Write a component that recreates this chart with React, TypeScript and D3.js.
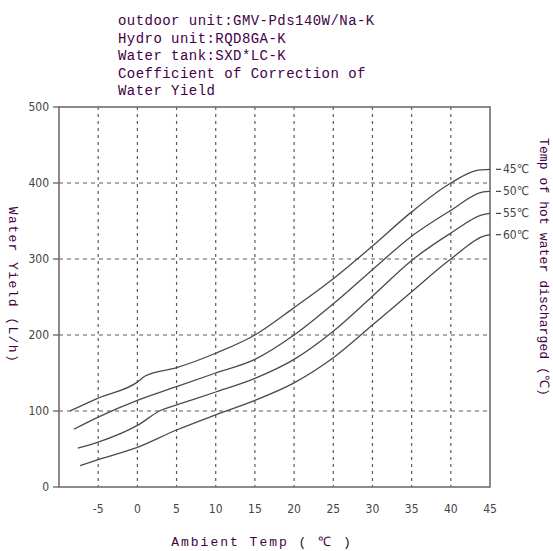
import * as d3 from 'd3';

type Pt = [number, number];

const TITLE_LINES = [
  'outdoor unit:GMV-Pds140W/Na-K',
  'Hydro unit:RQD8GA-K',
  'Water tank:SXD*LC-K',
  'Coefficient of Correction of',
  'Water Yield',
];

const X_TICKS = [-5, 0, 5, 10, 15, 20, 25, 30, 35, 40, 45];
const Y_TICKS = [0, 100, 200, 300, 400, 500];
const SERIES_LABELS = ['45℃', '50℃', '55℃', '60℃'];

// water yield (L/h) vs ambient temp, one curve per hot water temp
const CURVE_45: Pt[] = [[-8.6, 100], [-5, 117], [0, 138], [1, 146], [5, 157], [10, 176], [15, 200], [20, 236], [25, 274], [30, 317], [35, 362], [40, 400], [43.5, 417], [45, 418]];
const CURVE_50: Pt[] = [[-8.1, 76], [-5, 92], [0, 114], [5, 132], [10, 150], [15, 168], [20, 200], [25, 241], [30, 286], [35, 330], [40, 364], [44, 388], [45, 389]];
const CURVE_55: Pt[] = [[-7.6, 51], [-5, 59], [0, 81], [3, 101], [5, 108], [10, 125], [15, 143], [20, 168], [25, 205], [30, 251], [35, 298], [40, 334], [44, 358], [45, 360]];
const CURVE_60: Pt[] = [[-7.3, 28], [-5, 36], [0, 52], [5, 75], [10, 95], [15, 114], [20, 137], [25, 170], [30, 213], [35, 257], [40, 300], [44.5, 331], [45, 332]];

const CURVES = [CURVE_45, CURVE_50, CURVE_55, CURVE_60];

const PURPLE = '#440048';
const GRAY = '#5a5a5a';
const NARROW = '"Liberation Sans Narrow", "DejaVu Sans Condensed", sans-serif';
const MONO = '"Liberation Mono", "DejaVu Sans Mono", monospace';

export default function App() {
  const W = 553;
  const H = 551;

  const x = d3.scaleLinear().domain([-10, 45]).range([59, 490]);
  const y = d3.scaleLinear().domain([0, 500]).range([487, 107]);

  const line = d3.line<Pt>()
    .x(d => x(d[0]))
    .y(d => y(d[1]))
    .curve(d3.curveMonotoneX);

  const [x0, x1] = x.range();
  const [yb, yt] = y.range();

  return (
    <svg width={W} height={H} style={{ position: 'absolute', left: 0, top: 0, background: '#fff' }}>
      {/* title block */}
      {TITLE_LINES.map((t, i) => (
        <text key={t} x={118} y={25 + i * 17.5} fontSize={14} fontFamily={MONO} letterSpacing={0.45} fill={PURPLE}>
          {t}
        </text>
      ))}

      {/* grid */}
      {Y_TICKS.filter(v => v > 0 && v < 500).map(v => (
        <line key={'h' + v} x1={x0} x2={x1} y1={y(v)} y2={y(v)} stroke={GRAY} strokeWidth={1.2} strokeDasharray="4 4" />
      ))}
      {X_TICKS.filter(v => v < 45).map(v => (
        <line key={'v' + v} x1={x(v)} x2={x(v)} y1={yt} y2={yb} stroke={GRAY} strokeWidth={1.2} strokeDasharray="3 4" />
      ))}

      {/* frame */}
      <rect x={x0} y={yt} width={x1 - x0} height={yb - yt} fill="none" stroke="#6e6e6e" strokeWidth={1.6} />

      {/* y ticks */}
      {Y_TICKS.map(v => (
        <g key={'yt' + v}>
          <line x1={x0 - 6} x2={x0} y1={y(v)} y2={y(v)} stroke="#6e6e6e" strokeWidth={1.4} />
          <text x={49} y={y(v)} textAnchor="end" dominantBaseline="central" fontSize={12} fontFamily={NARROW} fill="#444">
            {v}
          </text>
        </g>
      ))}

      {/* x tick labels */}
      {X_TICKS.map(v => (
        <text key={'xt' + v} x={x(v)} y={513} textAnchor="middle" fontSize={12} fontFamily={NARROW} fill="#444">
          {v}
        </text>
      ))}

      {/* curves */}
      {CURVES.map((c, i) => (
        <path key={i} d={line(c) ?? ''} fill="none" stroke="#4a4a4a" strokeWidth={1.3} />
      ))}

      {/* series labels */}
      {CURVES.map((c, i) => {
        const last = c[c.length - 1];
        return (
          <g key={'l' + i}>
            <line x1={x1 + 6} x2={x1 + 11} y1={y(last[1])} y2={y(last[1])} stroke="#444" strokeWidth={1.2} />
            <text x={x1 + 13} y={y(last[1])} dominantBaseline="central" fontSize={12} fontFamily={NARROW} fill="#444">
              {SERIES_LABELS[i]}
            </text>
          </g>
        );
      })}

      {/* axis titles */}
      <text transform={`translate(12, 285) rotate(90)`} textAnchor="middle" dominantBaseline="central" fontSize={13} fontFamily={MONO} letterSpacing={1.4} fill={PURPLE}>
        Water Yield (L/h)
      </text>
      <text transform={`translate(543, 267) rotate(90)`} textAnchor="middle" dominantBaseline="central" fontSize={13} fontFamily={MONO} letterSpacing={0.1} fill={PURPLE}>
        Temp of hot water discharged (℃)
      </text>
      <text x={262} y={546} textAnchor="middle" fontSize={13} fontFamily={MONO} letterSpacing={2} fill={PURPLE}>
        Ambient Temp ( ℃ )
      </text>
    </svg>
  );
}
